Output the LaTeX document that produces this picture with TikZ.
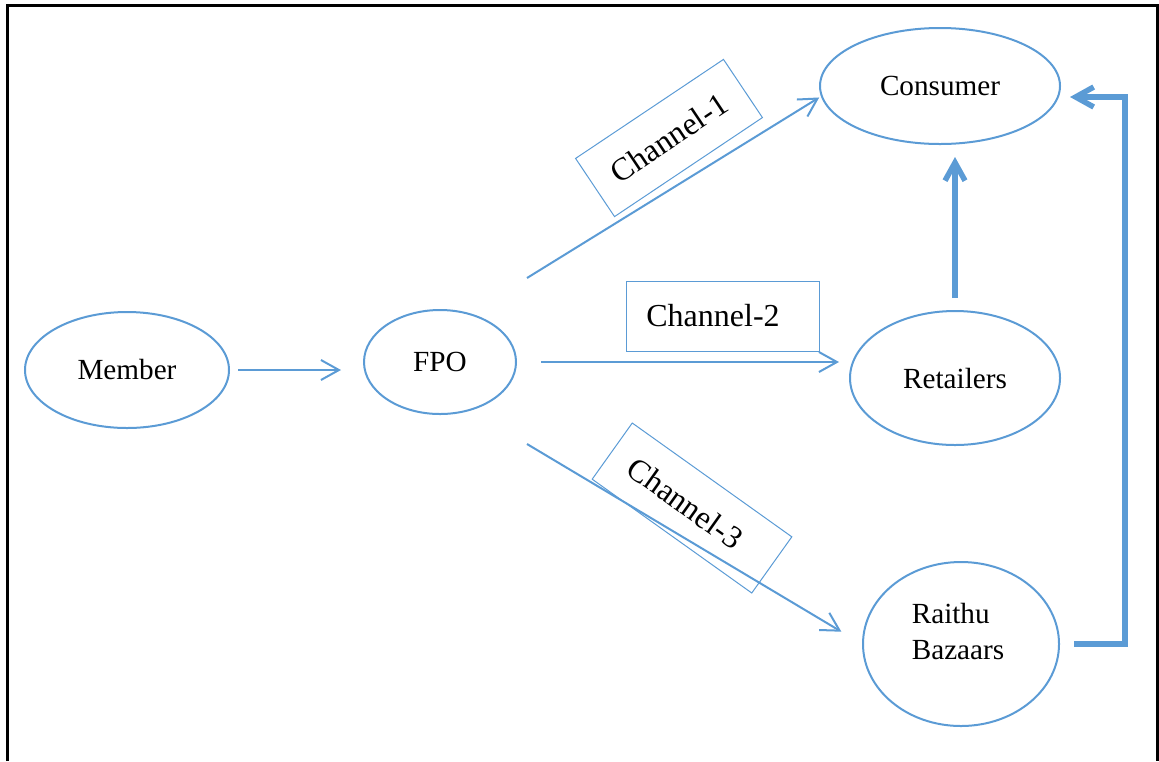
\documentclass[tikz,border=0pt]{standalone}
\usepackage{fontspec}
\setmainfont{Liberation Serif}
\usepackage{tikz}
\usetikzlibrary{arrows.meta, positioning, calc, shapes.geometric}

\definecolor{officeblue}{HTML}{5B9BD5}

\begin{document}
\begin{tikzpicture}[x=0.5pt, y=-0.5pt,
        every node/.style={inner sep=0pt, font=\fontsize{14.6}{18}\selectfont},
        ellip/.style={ellipse, draw=officeblue, line width=1pt},
        chanbox/.style={draw=officeblue, line width=0.5pt, font=\fontsize{16}{19}\selectfont},
        thinarrow/.style={officeblue, line width=1pt, -{Straight Barb[length=9pt, width=10pt]}},
        thickarrow/.style={officeblue, line width=2.75pt, -{Straight Barb[length=9pt, width=10pt]}}]
        \useasboundingbox (0,0) rectangle (1159,761);
        % frame
        \draw[line width=1.5pt] (7,761) -- (7,5) -- (1157,5) -- (1157,761);

        % nodes
        \node (member) [ellip, minimum width=102pt, minimum height=58pt] at (127,370) {Member};
        \node (fpo) [ellip, minimum width=76pt, minimum height=52pt] at (440,362) {FPO};
        \node (consumer) [ellip, minimum width=120pt, minimum height=58pt] at (940,86) {Consumer};
        \node (retailers) [ellip, minimum width=105pt, minimum height=67pt] at (955,378) {Retailers};
        \node (raithu) [ellip, minimum width=98pt, minimum height=82pt] at (961,644) {};
        \node (raithulbl) [align=left] at (958,631) {Raithu\\Bazaars};

        % channel labels
        \node (ch1) [chanbox, rotate=33.8, minimum width=89pt, minimum height=35pt] at (669,138) {Channel-1};
        \node (ch2) [chanbox, minimum width=96.5pt, minimum height=35pt] at (723,316) {Channel-2\rule{10pt}{0pt}};
        \node (ch3) [chanbox, rotate=-35.5, minimum width=98pt, minimum height=34.5pt] at (692,508) {Channel-3\rule{8pt}{0pt}};

        \coordinate (c1s) at (527,278);
        \coordinate (c3s) at (527,444);
        \coordinate (rb) at (1125,97);

        % connectors
        \draw[thinarrow, shorten <=4pt, shorten >=11pt] (member.east) -- (member.east -| fpo.west);
        \draw[thinarrow, shorten >=1pt] (c1s) -- (consumer.185);
        \draw[thinarrow, shorten <=12pt, shorten >=5pt] (fpo.east) -- (fpo.east -| retailers.west);
        \draw[thinarrow, shorten >=12pt] (c3s) -- (raithu.west);
        \draw[thickarrow, shorten <=6pt, shorten >=6pt] (retailers.north) -- (retailers.north |- consumer.south);
        \draw[thickarrow, shorten <=7pt, shorten >=4.5pt] (raithu.east) -| (rb) -- (rb -| consumer.east);
    \end{tikzpicture}
\end{document}
